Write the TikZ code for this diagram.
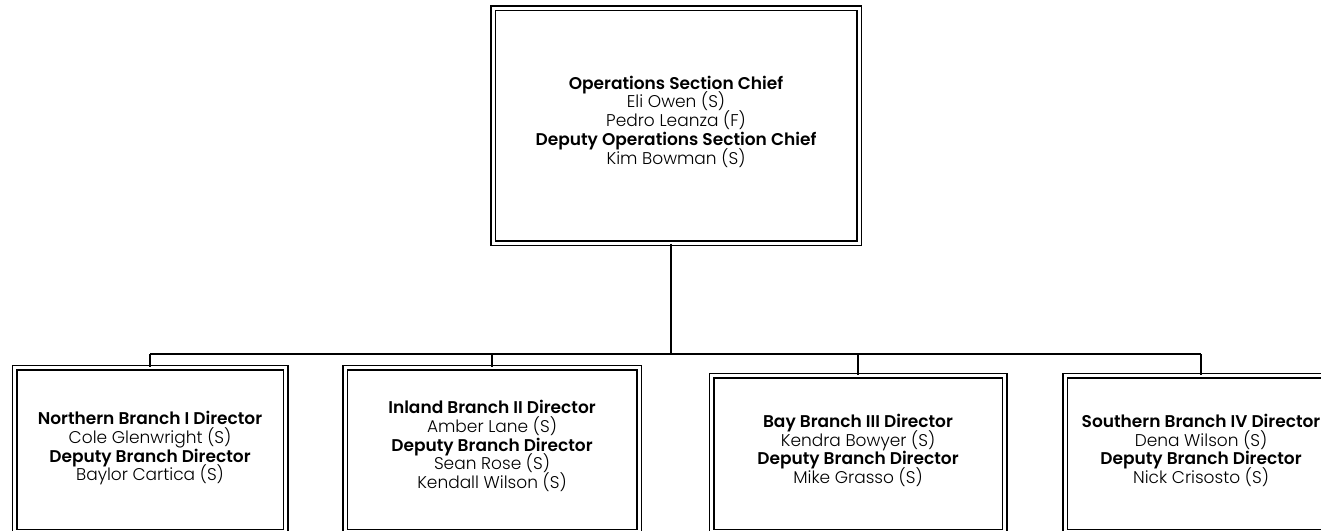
\documentclass[tikz,border=0pt]{standalone}
\usepackage{fontspec}
\setmainfont{Poppins Light}[BoldFont={Poppins SemiBold}]
\usetikzlibrary{calc}
\newcommand\postfont{\fontsize{17}{18.7}\selectfont\lineskiplimit=-20pt\relax\lineskip=0pt\relax}

\begin{document}
\begin{tikzpicture}[x=1pt,y=-1pt,
	post/.style={draw,double,line width=1.5pt,double distance=3pt,align=center,inner sep=0pt,
		font=\postfont},
	link/.style={line width=1.8pt}]
	\useasboundingbox (0,0) rectangle (1321,530);
	\clip (0,0) rectangle (1321,530);
	\node[post,minimum width=366pt,minimum height=235pt,text depth=11pt] (ops) at (676,125.5)
		{\textbf{Operations Section Chief}\\Eli Owen (S)\\Pedro Leanza (F)\\\textbf{Deputy Operations Section Chief}\\Kim Bowman (S)};
	\node[post,minimum width=271pt,minimum height=164pt,text depth=6.5pt] (br1) at (150,449.5)
		{\textbf{Northern Branch I Director}\\Cole Glenwright (S)\\\textbf{Deputy Branch Director}\\Baylor Cartica (S)};
	\node[post,minimum width=294pt,minimum height=164pt,text depth=10pt] (br2) at (492,449.5)
		{\textbf{Inland Branch II Director}\\Amber Lane (S)\\\textbf{Deputy Branch Director}\\Sean Rose (S)\\Kendall Wilson (S)};
	\node[post,minimum width=293pt,minimum height=156pt,text depth=9.5pt] (br3) at (858,453.5)
		{\textbf{Bay Branch III Director}\\Kendra Bowyer (S)\\\textbf{Deputy Branch Director}\\Mike Grasso (S)};
	\node[post,minimum width=272pt,minimum height=156pt,text depth=9.5pt] (br4) at (1201,453.5)
		{\textbf{Southern Branch IV Director}\\Dena Wilson (S)\\\textbf{Deputy Branch Director}\\Nick Crisosto (S)};
	\coordinate (bus) at (671,354);
	\draw[link] ([xshift=-5pt]ops.south) -- (bus);
	\draw[link] (bus -| br1.north) -- (bus -| br4.north);
	\foreach \b in {br1,br2,br3,br4}
		\draw[link] (bus -| \b.north) -- (\b.north);
\end{tikzpicture}
\end{document}
